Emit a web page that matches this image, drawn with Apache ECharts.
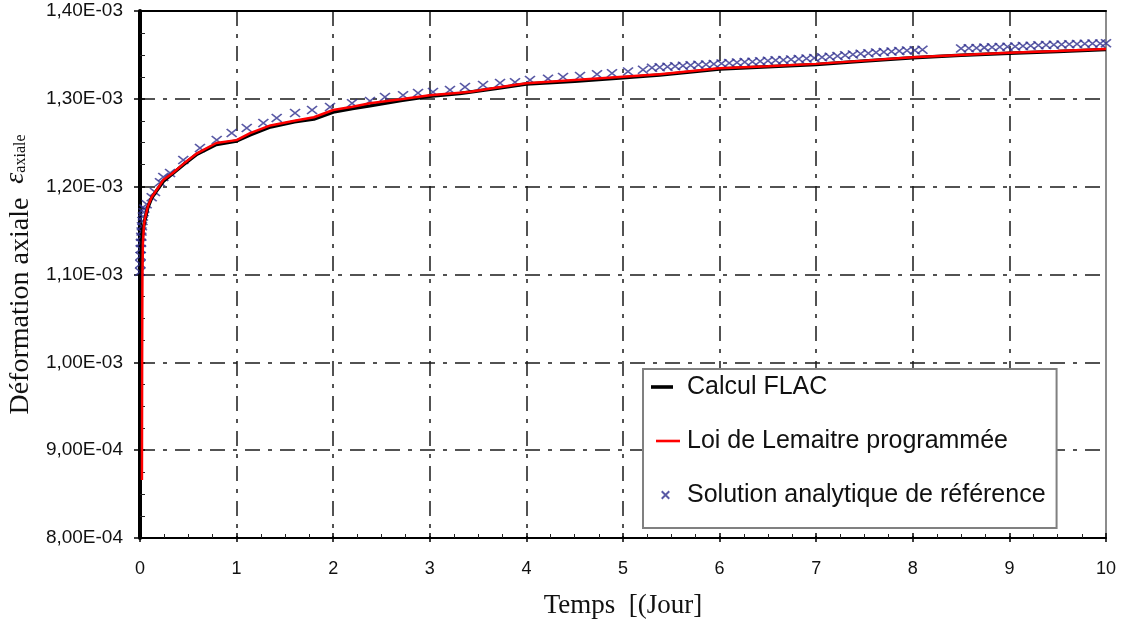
<!DOCTYPE html>
<html style="height: 100%">
<head>
    <title>Déformation axiale</title>
    <meta charset="UTF-8">
    <script type="text/javascript" src="https://cdn.jsdelivr.net/npm/echarts@6/dist/echarts.min.js"></script>
</head>
<body style="height: 100%; margin: 0; background: #fff">

<div id="container" style="width: 1123px; height: 628px"></div>

<script type="text/javascript">
// strain values are in units of 1E-03
var xTicks = [0, 10, 1];
var yTicks = [0.8, 1.4, 0.1];

// Calcul FLAC
var timeFlac = [0, 0.005, 0.01, 0.015, 0.02, 0.03, 0.05, 0.08, 0.12, 0.17, 0.24, 0.34, 0.45, 0.59, 0.79, 1.0, 1.14, 1.35, 1.6, 1.8, 2.0, 2.2, 2.38, 2.7, 3.0, 3.31, 3.7, 4.0, 4.5, 5.0, 5.38, 6.0, 6.5, 7.0, 7.5, 8.0, 8.5, 9.0, 9.5, 10];
var strainFlac = [0.855, 0.95, 1.06, 1.11, 1.135, 1.15, 1.162, 1.176, 1.187, 1.195, 1.206, 1.215, 1.225, 1.237, 1.248, 1.252, 1.259, 1.268, 1.274, 1.277, 1.285, 1.289, 1.292, 1.298, 1.303, 1.306, 1.312, 1.317, 1.320, 1.324, 1.327, 1.334, 1.3365, 1.339, 1.343, 1.3468, 1.3495, 1.352, 1.354, 1.3562];

// Loi de Lemaitre programmée
var timeLemaitre = [0.02, 0.022, 0.025, 0.03, 0.04, 0.05, 0.08, 0.12, 0.17, 0.24, 0.34, 0.45, 0.59, 0.79, 1.0, 1.14, 1.35, 1.6, 1.8, 2.0, 2.2, 2.38, 2.7, 3.0, 3.31, 3.42, 3.7, 4.0, 4.5, 5.0, 5.38, 6.0, 6.5, 7.0, 7.5, 8.0, 8.5, 9.0, 9.5, 10];
var strainLemaitre = [0.866, 1.00, 1.10, 1.135, 1.155, 1.163, 1.177, 1.188, 1.196, 1.2075, 1.2155, 1.226, 1.238, 1.2497, 1.253, 1.261, 1.2697, 1.275, 1.279, 1.2873, 1.291, 1.2949, 1.2994, 1.304, 1.307, 1.308, 1.313, 1.3177, 1.3215, 1.3252, 1.328, 1.3347, 1.337, 1.3398, 1.3435, 1.3473, 1.350, 1.3525, 1.3545, 1.3567];

// Solution analytique de référence
var timeRef = [0.002, 0.004, 0.006, 0.008, 0.010, 0.013, 0.016, 0.020, 0.025, 0.030, 0.037, 0.045, 0.069,
    0.121, 0.155, 0.207, 0.241, 0.311, 0.448, 0.621, 0.794, 0.949, 1.105, 1.277, 1.415, 1.605, 1.781, 1.967,
    2.195, 2.381, 2.536, 2.723, 2.878, 3.033, 3.209, 3.364, 3.551, 3.727, 3.882, 4.037, 4.224, 4.379, 4.555,
    4.731, 4.886, 5.052, 5.207,
    5.30, 5.38, 5.46, 5.54, 5.62, 5.70, 5.78, 5.86, 5.94, 6.02, 6.10, 6.18, 6.26, 6.34, 6.42, 6.50, 6.58, 6.66,
    6.74, 6.82, 6.90, 6.98, 7.06, 7.14, 7.22, 7.30, 7.38, 7.46, 7.54, 7.62, 7.70, 7.78, 7.86, 7.94, 8.02, 8.10,
    8.50, 8.58, 8.66, 8.74, 8.82, 8.90, 8.98, 9.06, 9.14, 9.22, 9.30, 9.38, 9.46, 9.54, 9.62, 9.70, 9.78, 9.86,
    9.94, 10.0];
var strainRef = [1.103, 1.112, 1.121, 1.129, 1.136, 1.143, 1.149, 1.155, 1.161, 1.166, 1.171, 1.175, 1.180,
    1.188, 1.194, 1.205, 1.211, 1.2155, 1.2303, 1.244, 1.2531, 1.261, 1.2667, 1.2724, 1.2781, 1.2838, 1.2872, 1.2907,
    1.2950, 1.2975, 1.302, 1.304, 1.3066, 1.3077, 1.310, 1.3134, 1.3157, 1.318, 1.319, 1.3214, 1.323, 1.3248, 1.326,
    1.328, 1.329, 1.331, 1.333,
    1.3355, 1.3360, 1.3366, 1.3371, 1.3376, 1.3381, 1.3387, 1.3392, 1.3397, 1.3402, 1.3408, 1.3413, 1.3418, 1.3423,
    1.3428, 1.3433, 1.3438, 1.3443, 1.3449, 1.3454, 1.3460, 1.3466, 1.3473, 1.3480, 1.3488, 1.3496, 1.3504, 1.3512,
    1.3520, 1.3527, 1.3533, 1.3539, 1.3544, 1.3549, 1.3554, 1.3558,
    1.3572, 1.3576, 1.3579, 1.3583, 1.3586, 1.3590, 1.3593, 1.3597, 1.3601, 1.3605, 1.3609, 1.3612, 1.3616, 1.3619,
    1.3622, 1.3625, 1.3627, 1.3629, 1.3631, 1.3632];

function pairs(xs, ys) {
    return xs.map(function (x, i) { return [x, ys[i]]; });
}

// 1.40 -> "1,40E-03", 0.9 -> "9,00E-04"
function sciLabel(v) {
    var exp = 3, m = v;
    if (v < 0.9999) { exp = 4; m = v * 10; }
    return m.toFixed(2).replace('.', ',') + 'E-0' + exp;
}

var dashGrid = {
    show: true,
    showMinLine: false,
    showMaxLine: false,
    lineStyle: { color: '#1a1a1a', width: 1.5, type: [15, 8, 4, 8] }
};
var sansFont = 'Liberation Sans';
var serifFont = 'Liberation Serif';
var crossPath = 'path://M0,0L10,10M10,0L0,10';
// legend icons (extra move-to points only pad the icon box)
var blackIcon = 'path://M0,0M33,0M2,-1.8H24V1.8H2Z';
var redIcon = 'path://M0,0M33,0M7,-1.3H31V1.3H7Z';
var crossIcon = 'path://M-3,-3M13,13M0,0L10,10M10,0L0,10';

var myChart = echarts.init(document.getElementById('container'));

var option = {
    backgroundColor: '#fff',
    animation: false,
    grid: { left: 140, right: 17, top: 11, bottom: 90, containLabel: false, outerBoundsMode: 'none' },
    legend: {
        orient: 'vertical',
        left: 643,
        top: 369,
        padding: [3, 11, 18, 6],
        itemGap: 24,
        itemWidth: 33,
        itemHeight: 12,
        backgroundColor: '#fff',
        borderColor: '#808080',
        borderWidth: 2,
        borderRadius: 0,
        textStyle: { fontFamily: sansFont, fontSize: 25, color: '#111', lineHeight: 30 },
        data: [
            { name: 'Calcul FLAC', icon: blackIcon },
            { name: 'Loi de Lemaitre programmée', icon: redIcon },
            { name: 'Solution analytique de référence', icon: crossIcon }
        ]
    },
    xAxis: [{
        type: 'value',
        min: xTicks[0], max: xTicks[1], interval: xTicks[2],
        name: 'Temps  [(Jour]',
        nameLocation: 'middle',
        nameGap: 54,
        nameTextStyle: { fontFamily: serifFont, fontSize: 27, color: '#111' },
        axisLine: { show: true, onZero: false, lineStyle: { color: '#000', width: 2 } },
        axisTick: { show: true, inside: true, length: 5, lineStyle: { color: '#000', width: 1.5 } },
        minorTick: { show: true, splitNumber: 4, length: 4, lineStyle: { color: '#222', width: 1 } },
        axisLabel: { fontFamily: sansFont, fontSize: 18, color: '#111', margin: 22 },
        splitLine: dashGrid
    }, {
        type: 'value', position: 'bottom',
        min: xTicks[0], max: xTicks[1], interval: xTicks[2],
        axisLine: { show: false },
        axisTick: { show: true, inside: false, length: 4, lineStyle: { color: '#000', width: 1.5 } },
        axisLabel: { show: false },
        splitLine: { show: false }
    }, {
        type: 'value', position: 'top',
        min: xTicks[0], max: xTicks[1], interval: xTicks[2],
        axisLine: { show: true, onZero: false, lineStyle: { color: '#000', width: 2 } },
        axisTick: { show: false },
        axisLabel: { show: false },
        splitLine: { show: false }
    }],
    yAxis: [{
        type: 'value',
        min: yTicks[0], max: yTicks[1], interval: yTicks[2],
        name: '{t|Déformation axiale  }{e|ε}{s|axiale}',
        nameLocation: 'middle',
        nameGap: 97,
        nameTextStyle: {
            color: '#111',
            rich: {
                t: { fontFamily: serifFont, fontSize: 28, color: '#111' },
                e: { fontFamily: serifFont, fontSize: 28, fontStyle: 'italic', color: '#111', padding: [0, 0, 10, 0] },
                s: { fontFamily: serifFont, fontSize: 16, color: '#111' }
            }
        },
        axisLine: { show: false },
        axisTick: { show: true, inside: true, length: 5, lineStyle: { color: '#000', width: 1.5 } },
        minorTick: { show: true, splitNumber: 4, length: 5, lineStyle: { color: '#222', width: 1 } },
        axisLabel: { fontFamily: sansFont, fontSize: 19, color: '#111', margin: 17, formatter: sciLabel },
        splitLine: dashGrid
    }, {
        type: 'value', position: 'left',
        min: yTicks[0], max: yTicks[1], interval: yTicks[2],
        axisLine: { show: true, onZero: false, lineStyle: { color: '#000', width: 4 } },
        axisTick: { show: true, inside: false, length: 6, lineStyle: { color: '#000', width: 1.5 } },
        axisLabel: { show: false },
        splitLine: { show: false }
    }, {
        type: 'value', position: 'right',
        min: yTicks[0], max: yTicks[1], interval: yTicks[2],
        axisLine: { show: true, onZero: false, lineStyle: { color: '#8c8c8c', width: 2 } },
        axisTick: { show: false },
        axisLabel: { show: false },
        splitLine: { show: false }
    }],
    series: [{
        name: 'Calcul FLAC',
        type: 'line',
        data: pairs(timeFlac, strainFlac),
        showSymbol: false,
        symbol: 'none',
        z: 3,
        itemStyle: { color: '#000' },
        lineStyle: { color: '#000', width: 3.5 }
    }, {
        name: 'Loi de Lemaitre programmée',
        type: 'line',
        data: pairs(timeLemaitre, strainLemaitre),
        showSymbol: false,
        symbol: 'none',
        z: 4,
        itemStyle: { color: '#ff0000' },
        lineStyle: { color: '#ff0000', width: 2.5 }
    }, {
        name: 'Solution analytique de référence',
        type: 'scatter',
        data: pairs(timeRef, strainRef),
        symbol: crossPath,
        symbolSize: [10, 8],
        z: 2,
        itemStyle: { color: 'none', borderColor: '#30308f', borderWidth: 1.6 }
    }]
};

myChart.setOption(option);
</script>

</body>
</html>
